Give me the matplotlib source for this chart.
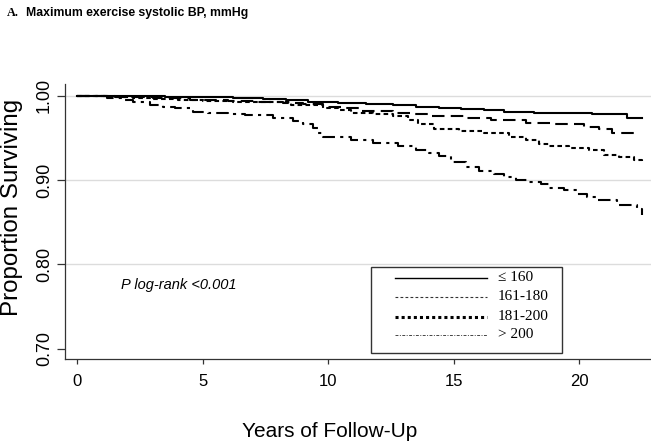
import matplotlib
matplotlib.use("Agg")
import matplotlib.pyplot as plt
from matplotlib.lines import Line2D
from matplotlib.patches import Rectangle

# Kaplan-Meier style survival curves (step change points)
t_le160 = [0, 2, 3.5, 5, 6.2, 7.4, 8.3, 9.2, 10.4, 11.5, 12.6, 13.5, 14.4, 15.3, 16.2, 17,
           18.2, 19.4, 20.5, 21.9, 22.5]
s_le160 = [1.0, 0.9995, 0.999, 0.998, 0.997, 0.996, 0.995, 0.993, 0.991, 0.990, 0.989, 0.987,
           0.986, 0.984, 0.983, 0.981, 0.980, 0.979, 0.978, 0.974, 0.974]

t_161_180 = [0, 1.5, 3, 4.5, 6, 7.2, 8.2, 9.0, 9.8, 10.5, 11.3, 12.6, 13.3, 14, 15.5, 16.5,
             17.9, 19, 20.2, 20.8, 21.3, 22.4]
s_161_180 = [1.0, 0.998, 0.997, 0.995, 0.994, 0.993, 0.991, 0.990, 0.987, 0.985, 0.982, 0.980,
             0.978, 0.976, 0.973, 0.971, 0.968, 0.966, 0.963, 0.960, 0.956, 0.956]

t_181_200 = [0, 1.2, 2.2, 3, 4, 5, 6.2, 7.2, 8.5, 9.8, 10.4, 10.9, 11.8, 12.6, 13.2, 13.6, 14.2,
             15.2, 16.2, 17.2, 17.9, 18.4, 18.8, 19.6, 20.4, 21, 21.6, 22.2, 22.5]
s_181_200 = [1.0, 0.998, 0.997, 0.996, 0.995, 0.994, 0.993, 0.992, 0.989, 0.986, 0.983, 0.980,
             0.978, 0.976, 0.971, 0.966, 0.961, 0.958, 0.956, 0.951, 0.947, 0.943, 0.940, 0.938,
             0.936, 0.930, 0.927, 0.924, 0.920]

t_gt200 = [0, 1.2, 1.8, 2.2, 2.9, 3.4, 3.9, 4.6, 5.2, 6.0, 6.7, 7.8, 8.6, 9.0, 9.4, 9.6, 9.8,
           10.9, 11.8, 12.8, 13.5, 14.0, 14.4, 14.9, 15.5, 16.0, 16.6, 17.0, 17.5, 18.0, 18.5,
           18.8, 19.4, 19.9, 20.3, 20.7, 21.5, 22.3, 22.5]
s_gt200 = [1.0, 0.997, 0.995, 0.993, 0.989, 0.987, 0.985, 0.981, 0.979, 0.978, 0.977, 0.9735,
           0.970, 0.967, 0.962, 0.956, 0.951, 0.948, 0.944, 0.940, 0.936, 0.932, 0.928, 0.921,
           0.915, 0.911, 0.907, 0.904, 0.900, 0.898, 0.895, 0.891, 0.888, 0.884, 0.880, 0.876,
           0.870, 0.866, 0.858]

group_labels = ["\u2264 160", "161-180", "181-200", "> 200"]
x_ticks = [0, 5, 10, 15, 20]
y_ticks = [0.70, 0.80, 0.90, 1.00]
grid_levels = [0.80, 0.90, 1.00]

SANS = ["Liberation Sans", "DejaVu Sans"]
SERIF = ["Liberation Serif", "DejaVu Serif"]

fig = plt.figure(figsize=(6.51, 4.47), dpi=100)
ax = fig.add_axes([0.1003, 0.1962, 0.8997, 0.6159])

for lev in grid_levels:
    ax.axhline(lev, color="#dcdcdc", lw=1.0, zorder=0)

curve_styles = [
    dict(ls="-", lw=1.5),
    dict(ls=(0, (6, 3)), lw=1.5),
    dict(ls=(0, (2.2, 1.6)), lw=1.5),
    dict(ls=(0, (6, 2.5, 1.5, 2.5)), lw=1.5),
]
series = [(t_le160, s_le160), (t_161_180, s_161_180), (t_181_200, s_181_200), (t_gt200, s_gt200)]
for (t, s), st in zip(series, curve_styles):
    ax.plot(t, s, drawstyle="steps-post", color="black", **st)

ax.set_xlim(-0.48, 22.87)
ax.set_ylim(0.6874, 1.0139)
ax.set_xticks(x_ticks)
ax.set_yticks(y_ticks)
ax.set_xticklabels([str(v) for v in x_ticks], family=SANS, fontsize=12)
ax.set_yticklabels([f"{v:.2f}" for v in y_ticks], family=SANS, fontsize=13,
                   rotation=90, va="center")

for side in ["top", "right"]:
    ax.spines[side].set_visible(False)
for side in ["left", "bottom"]:
    ax.spines[side].set_color("#333333")
    ax.spines[side].set_linewidth(0.9)
ax.tick_params(axis="x", length=3.5, width=0.9, color="#333333", pad=7)
ax.tick_params(axis="y", length=5.5, width=0.9, color="#333333", pad=3.5)

fig.text(0.018, 0.537, "Proportion Surviving", rotation=90, ha="center", va="center",
         family=SANS, fontsize=17.4)
fig.text(0.507, 0.034, "Years of Follow-Up", ha="center", va="center",
         family=SANS, fontsize=15)

ax.text(0.095, 0.27, "P log-rank <0.001", transform=ax.transAxes, style="italic",
        family=SANS, fontsize=10.5, va="center")

fig.text(0.011, 0.971, "A.", family=SERIF, weight="bold", fontsize=8.8, va="center")
fig.text(0.040, 0.971, "Maximum exercise systolic BP, mmHg", family=SANS, weight="bold",
         fontsize=8.8, va="center")

# Legend box (drawn by hand to match the boxed key)
box = Rectangle((0.5219, 0.0229), 0.3259, 0.3124, transform=ax.transAxes, fill=False,
                edgecolor="#333333", lw=1.0, zorder=3)
ax.add_patch(box)
legend_styles = [
    dict(ls="-", lw=1.0, color="black"),
    dict(ls=(0, (2.5, 2.0)), lw=0.8, color="#333333"),
    dict(ls=(0, (1.0, 1.0)), lw=2.2, color="black"),
    dict(ls=(0, (3, 1.5, 1, 1.5)), lw=0.7, color="#444444"),
]
row_y = [278, 297, 317, 335]
for lab, st, py in zip(group_labels, legend_styles, row_y):
    yy = (359.3 - py) / 275.3
    ax.add_line(Line2D([(395 - 65.3) / 585.7, (487 - 65.3) / 585.7], [yy, yy],
                       transform=ax.transAxes, zorder=4, **st))
    ax.text((498 - 65.3) / 585.7, yy, lab, transform=ax.transAxes, family=SERIF,
            fontsize=11, va="center", ha="left", zorder=4)

fig.savefig("out.png", dpi=100)
